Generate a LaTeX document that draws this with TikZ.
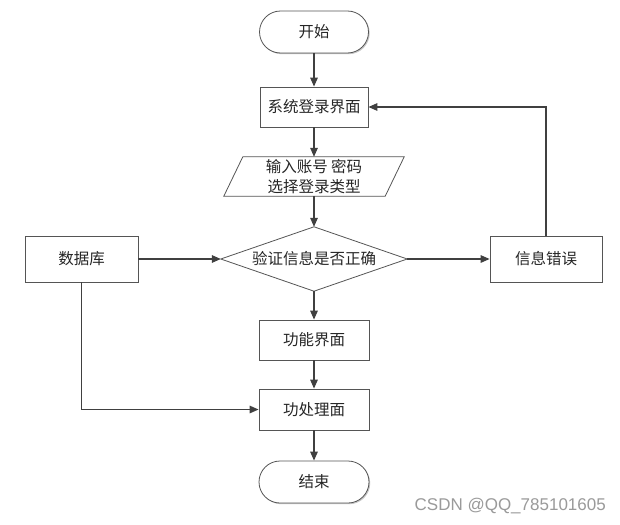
\documentclass[tikz,border=0pt]{standalone}
\usepackage{fontspec}
\setmainfont{Noto Sans CJK SC}
\newfontfamily\wmfont{Liberation Sans}
\usetikzlibrary{arrows.meta,shadows}
\definecolor{boxc}{HTML}{555555}
\definecolor{arrc}{HTML}{404040}
\definecolor{txtc}{HTML}{262626}
\definecolor{wmc}{HTML}{9A9A9A}
\newcommand{\fsz}{\fontsize{15.5}{19.5}\selectfont}
\begin{document}
\begin{tikzpicture}[x=1pt,y=-1pt,
  box/.style={draw=boxc, line width=0.8pt, fill=white, minimum width=108pt, minimum height=40pt,
    inner sep=0pt, font=\fsz, text=txtc,
    drop shadow={shadow xshift=1.2pt, shadow yshift=-1.2pt, fill=black!22, opacity=1}},
  term/.style={box, rounded corners=21pt, minimum width=109pt, minimum height=42pt},
  plain/.style={inner sep=0pt, font=\fsz, text=txtc, align=center},
  outline/.style={draw=boxc, line width=0.8pt},
  arr/.style={draw=arrc, line width=1.4pt, -{Triangle[length=9pt,width=7.5pt]}},
  wm/.style={font=\wmfont\fontsize{17}{18}\selectfont, text=wmc, inner sep=0pt}
]
\useasboundingbox (0,0) rectangle (620,524);
\fill[white] (0,0) rectangle (620,524);

\node[term] (start) at (314,32) {开始};
\node[box] (login) at (314,107) {系统登录界面};
\node[plain, minimum width=161pt, minimum height=39pt] (input) at (314,176.5) {输入账号 密码\\选择登录类型};
\node[plain, minimum width=186pt, minimum height=64pt] (check) at (314,259) {验证信息是否正确};
\node[box, minimum width=113pt, minimum height=46pt] (db) at (81.5,259) {数据库};
\node[box, minimum width=112pt, minimum height=46pt] (err) at (546,259) {信息错误};
\node[box, minimum width=110pt] (func) at (314,340) {功能界面};
\node[box, minimum width=110pt, minimum height=41pt] (proc) at (314,409.5) {功处理面};
\node[term, minimum width=110pt] (end) at (314,482) {结束};

\draw[outline] ([xshift=9.5pt]input.north west) -- ([xshift=9.5pt]input.north east)
  -- ([xshift=-9.5pt]input.south east) -- ([xshift=-9.5pt]input.south west) -- cycle;
\draw[outline] (check.west) -- (check.north) -- (check.east) -- (check.south) -- cycle;

\draw[arr] (start.south) -- (login.north);
\draw[arr] (login.south) -- (input.north);
\draw[arr] (input.south) -- (check.north);
\draw[arr] (db.east) -- (check.west);
\draw[arr] (check.east) -- (err.west);
\draw[arr] (err.north) |- (login.east);
\draw[arr] (check.south) -- (func.north);
\draw[arr] (func.south) -- (proc.north);
\draw[arr] (db.south) |- (proc.west);
\draw[arr] (proc.south) -- (end.north);

\node[wm, anchor=east] (mark) at (606,506) {CSDN @QQ\_785101605};
\end{tikzpicture}
\end{document}
